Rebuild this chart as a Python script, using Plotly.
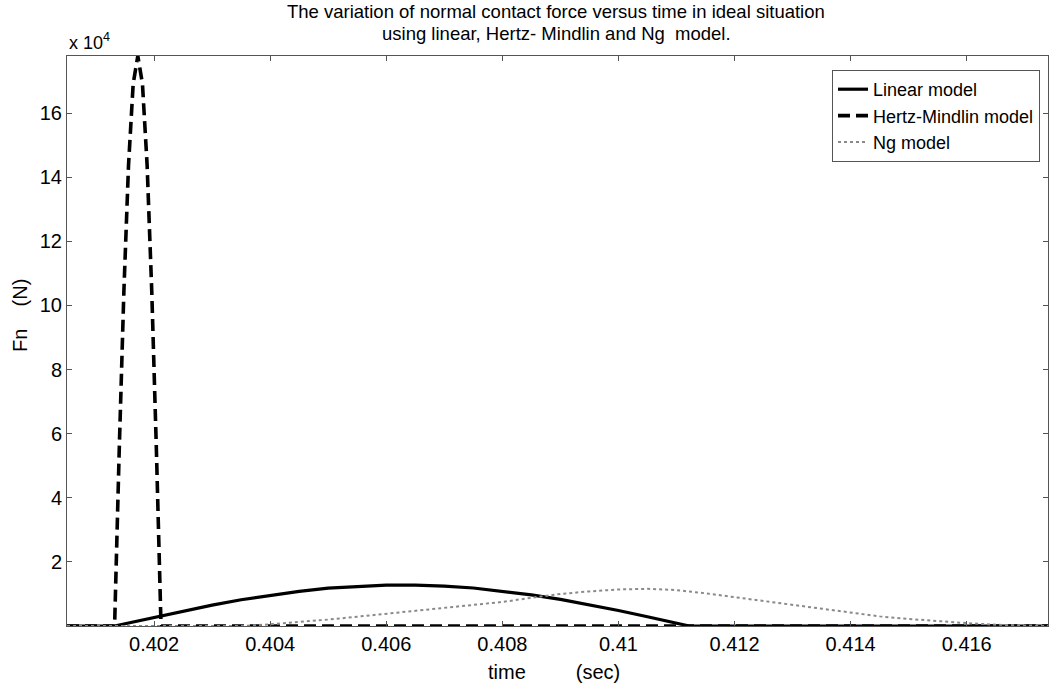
import plotly.graph_objects as go

# Normal contact force (N) against time (s) for three contact models
linear_t = [0.40050, 0.40132, 0.4015, 0.4020, 0.4025, 0.4030, 0.4035, 0.4040, 0.4045, 0.4050,
            0.4055, 0.4060, 0.4065, 0.4070, 0.4075, 0.4080, 0.4085, 0.4090,
            0.4095, 0.4100, 0.4105, 0.4110, 0.41122, 0.4174]
linear_f = [0, 0, 700, 2700, 4700, 6500, 8200, 9600, 10800, 11800,
            12400, 12750, 12750, 12450, 11850, 10900, 9700, 8300,
            6600, 4850, 2900, 900, 0, 0]

hertz_t = [0.40050, 0.40132, 0.40140, 0.40148, 0.40156, 0.40164, 0.40172, 0.40180,
           0.40188, 0.40196, 0.40204, 0.40212, 0.4174]
hertz_f = [0, 0, 55000, 104500, 143800, 169100, 177800, 169100,
           143800, 104500, 55000, 0, 0]

ng_t = [0.40050, 0.4035, 0.4040, 0.4045, 0.4050, 0.4055, 0.4060, 0.4065, 0.4070, 0.4075,
        0.4080, 0.4085, 0.4090, 0.4095, 0.4100, 0.4105, 0.4110, 0.4115,
        0.4120, 0.4125, 0.4130, 0.4135, 0.4140, 0.4145, 0.4150, 0.4155,
        0.4160, 0.4165, 0.4170, 0.4174]
ng_f = [0, 0, 500, 1200, 2000, 2900, 3800, 4700, 5500, 6500,
        7500, 8800, 10000, 10800, 11400, 11600, 11200, 10200,
        9000, 7700, 6400, 5200, 4000, 3000, 2200, 1500,
        900, 400, 100, 0]

x_ticks = [0.402, 0.404, 0.406, 0.408, 0.410, 0.412, 0.414, 0.416]
x_tick_text = ["0.402", "0.404", "0.406", "0.408", "0.41", "0.412", "0.414", "0.416"]
y_ticks = [20000, 40000, 60000, 80000, 100000, 120000, 140000, 160000]
y_tick_text = ["2", "4", "6", "8", "10", "12", "14", "16"]

FONT = "Liberation Sans, Arial, sans-serif"
NB = "\u00a0"

fig = go.Figure()
fig.add_trace(go.Scatter(
    x=linear_t, y=linear_f, mode="lines", name="Linear model",
    line=dict(color="black", width=3.2),
))
fig.add_trace(go.Scatter(
    x=hertz_t, y=hertz_f, mode="lines", name="Hertz-Mindlin model",
    line=dict(color="black", width=3.6, dash="12px,6px"),
))
fig.add_trace(go.Scatter(
    x=ng_t, y=ng_f, mode="lines", name="Ng model",
    line=dict(color="#8a8a8a", width=2, dash="dot"),
))

axis_common = dict(
    showline=True, linecolor="#555555", linewidth=1, mirror="ticks",
    ticks="inside", ticklen=5, tickcolor="#555555",
    showgrid=False, zeroline=False,
    tickfont=dict(family=FONT, size=20, color="black"),
)

def text_note(text, x, y, size, angle=0):
    return dict(text=text, x=x, y=y, xref="paper", yref="paper",
                xanchor="center", yanchor="middle", showarrow=False,
                textangle=angle, font=dict(family=FONT, size=size, color="black"))

PLOT_L, PLOT_T, PLOT_W, PLOT_H = 67, 56, 981, 570

def px_x(px):
    return (px - PLOT_L) / PLOT_W

def px_y(py):
    return (PLOT_T + PLOT_H - py) / PLOT_H

fig.update_layout(
    width=1049, height=686,
    margin=dict(l=67, r=1, t=56, b=60),
    paper_bgcolor="white", plot_bgcolor="white",
    font=dict(family=FONT, color="black"),
    xaxis=dict(range=[0.40050, 0.41740], tickvals=x_ticks, ticktext=x_tick_text,
               **axis_common),
    yaxis=dict(range=[0, 177800], tickvals=y_ticks, ticktext=y_tick_text,
               **axis_common),
    legend=dict(
        x=px_x(1040), xanchor="right", y=px_y(70), yanchor="top",
        bgcolor="white", bordercolor="#555555", borderwidth=1,
        font=dict(family=FONT, size=18, color="black"),
        tracegroupgap=0,
    ),
    showlegend=True,
    annotations=[
        text_note("The variation of normal contact force versus time in ideal situation",
                  px_x(556), px_y(12), 18.5),
        text_note(f"using linear, Hertz- Mindlin and Ng{NB}{NB}model.",
                  px_x(556), px_y(33), 18.5),
        text_note(f"time{NB * 9}(sec)", px_x(554), px_y(672), 20),
        text_note(f"Fn{NB * 4}(N)", px_x(20), px_y(316), 20, angle=-90),
        dict(text="x 10<sup>4</sup>", x=0, y=1, xref="paper", yref="paper",
             xanchor="left", yanchor="bottom", yshift=1, showarrow=False,
             font=dict(family=FONT, size=18, color="black")),
    ],
)

fig.write_html("out.html")
